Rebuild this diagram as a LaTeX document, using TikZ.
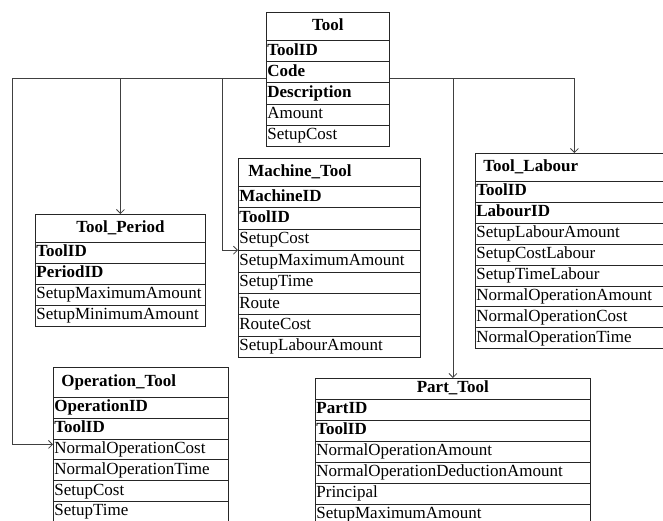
\documentclass[tikz,border=0pt]{standalone}
\usepackage{fontspec}
\setmainfont{Liberation Serif}
\usetikzlibrary{arrows.meta,calc}
\tikzset{
  cell/.style={draw=black!85, line width=0.8pt, anchor=north west, inner xsep=1pt, inner ysep=0pt,
    font=\fontsize{17}{20}\selectfont, text height=12pt, text depth=4pt},
  tleft/.style={align=left},
  tcenter/.style={align=center},
  hdr/.style={font=\fontsize{17}{20}\selectfont\bfseries},
  arr/.style={draw=black!75, line width=0.8pt, -{Straight Barb[length=4pt,width=8pt]}},
  ln/.style={draw=black!75, line width=0.8pt},
}
\newcommand\entity[9]{%
  \pgfmathsetmacro\etw{#4-2}%
  \node[cell,hdr,#7,text width=\etw pt,minimum height=#5 pt] (#1) at (#2,#3) {#8};
  \foreach \txt [count=\i] in {#9}{%
    \node[cell,align=left,text width=\etw pt,minimum height=#6 pt] (#1-\i) at ({#2},{#3+#5+(\i-1)*#6}) {\txt};
  }%
}
\begin{document}
\begin{tikzpicture}[x=1pt,y=-1pt]
\useasboundingbox (0,0) rectangle (663,520);
\clip (0,0) rectangle (663,520);

\entity{Tool}{266}{12}{123}{28}{21.2}{tcenter}{Tool}{\textbf{ToolID},\textbf{Code},\textbf{Description},Amount,SetupCost}
\entity{TP}{35}{214}{170}{28}{21}{tcenter}{Tool\_Period}{\textbf{ToolID},\textbf{PeriodID},SetupMaximumAmount,SetupMinimumAmount}
\entity{MT}{238}{158}{182}{28}{21.4}{tleft}{\hspace*{9pt}Machine\_Tool}{\textbf{MachineID},\textbf{ToolID},SetupCost,SetupMaximumAmount,SetupTime,Route,RouteCost,SetupLabourAmount}
\entity{TL}{475}{153}{198}{28}{20.9}{tleft}{\hspace*{7pt}Tool\_Labour}{\textbf{ToolID},\textbf{LabourID},SetupLabourAmount,SetupCostLabour,SetupTimeLabour,NormalOperationAmount,NormalOperationCost,NormalOperationTime}
\entity{OT}{53}{367}{175}{30}{20.8}{tleft}{\hspace*{7pt}Operation\_Tool}{\textbf{OperationID},\textbf{ToolID},NormalOperationCost,NormalOperationTime,SetupCost,SetupTime}
\entity{PT}{315}{378}{275}{21}{21}{tcenter}{Part\_Tool}{\textbf{PartID},\textbf{ToolID},NormalOperationAmount,NormalOperationDeductionAmount,Principal,SetupMaximumAmount}

\coordinate (tl) at (Tool-2.west |- 0,78);
\coordinate (tr) at (Tool-2.east |- 0,78);
\coordinate (bL) at (12,78);
\coordinate (bM) at (222,78);

\draw[ln] (tl) -- (bL);
\draw[arr] (bL) |- ($(OT-3.west)+(0,-5)$);
\draw[arr] (tl) -| (TP.north);
\draw[arr] (bM) |- (MT-4.north west);
\draw[arr] (tr) -| (TL.north);
\draw[arr] (tr) -| (PT.north);
\end{tikzpicture}
\end{document}
